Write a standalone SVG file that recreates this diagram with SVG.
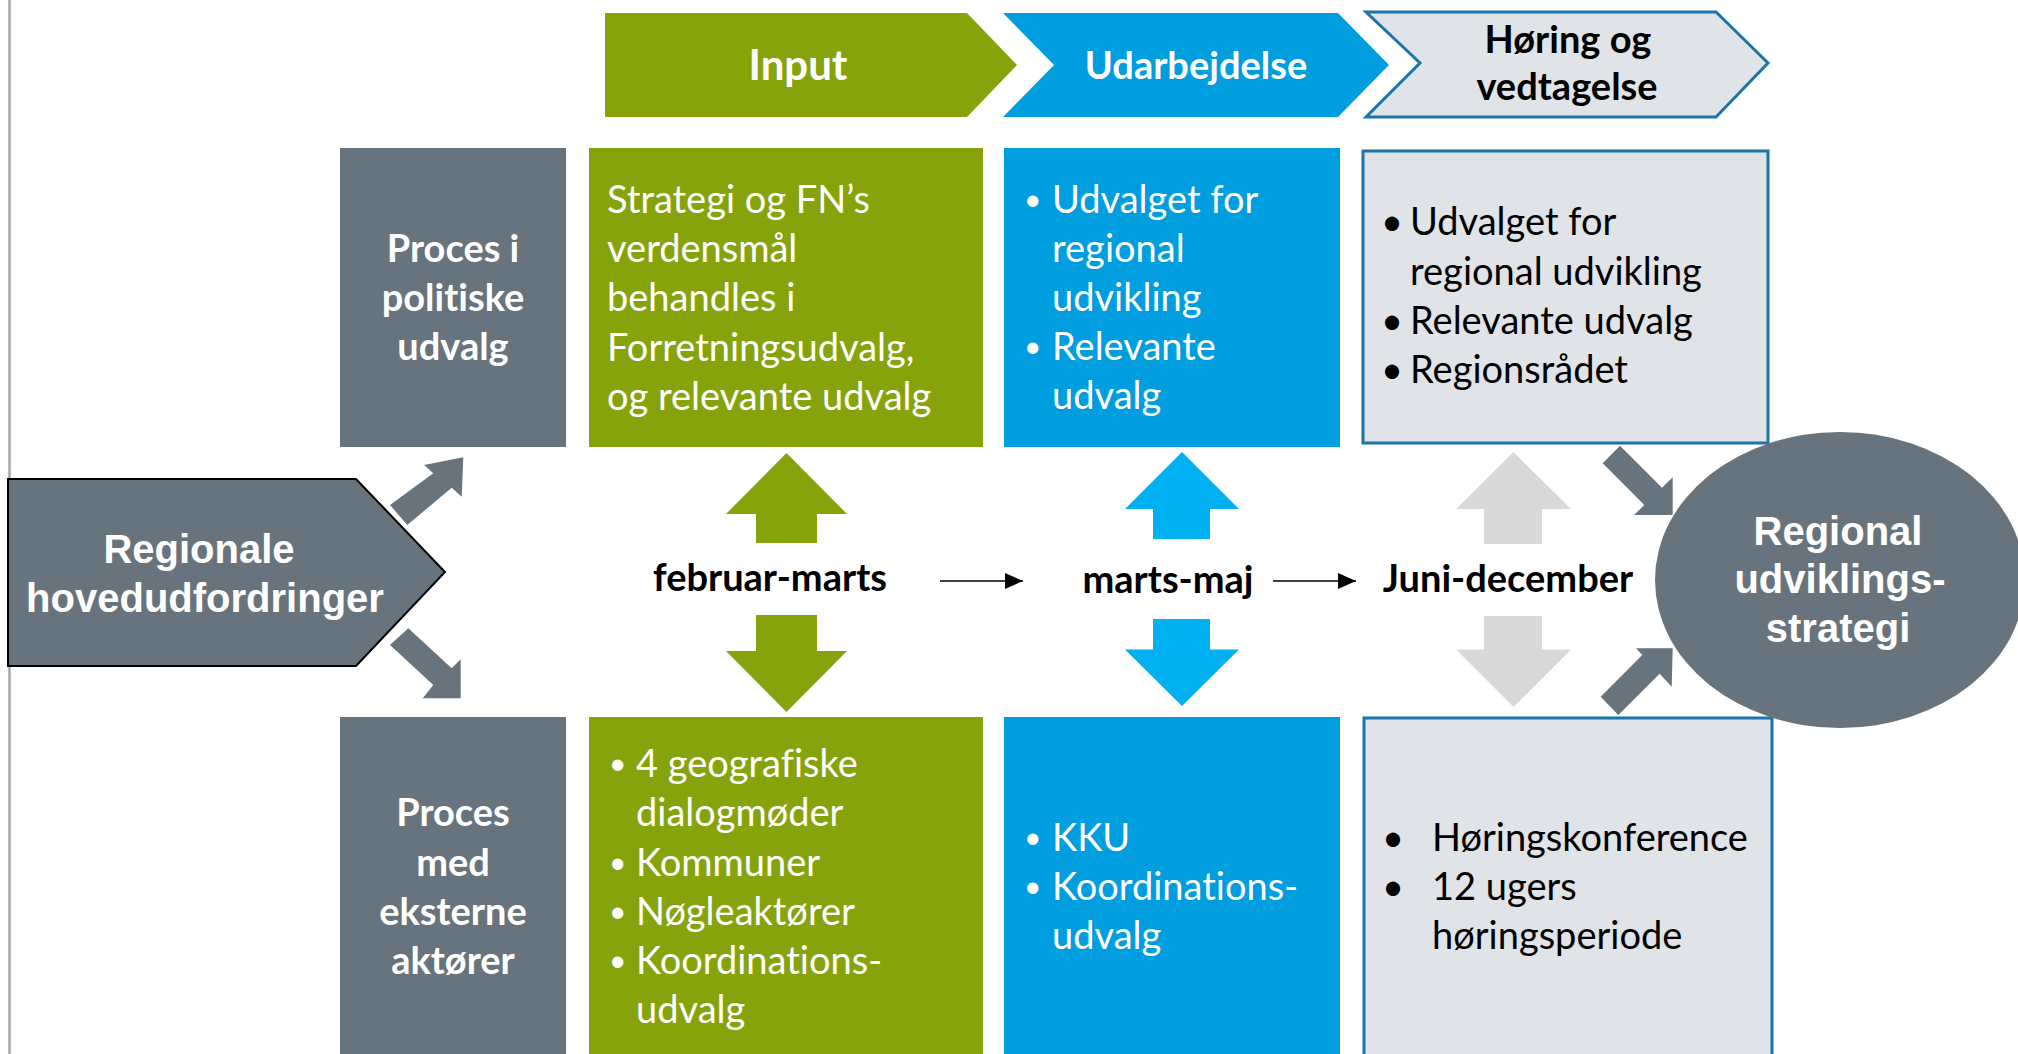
<svg xmlns="http://www.w3.org/2000/svg" width="2018" height="1054" viewBox="0 0 2018 1054">
<style>
text{font-variant-ligatures:none;font-feature-settings:"liga" 0,"clig" 0}
.lbl{font-family:Lato,"Liberation Sans",sans-serif;font-weight:700;font-size:38px}
.body{font-family:Lato,"Liberation Sans",sans-serif;font-size:38px}
.bul{font-family:Lato,"Liberation Sans",sans-serif;font-size:30px}
.w{fill:#fff}
.k{fill:#000}
.arial{font-family:"Liberation Sans",Arial,sans-serif;font-weight:700;font-size:40px;fill:#fff}
.mid{text-anchor:middle}
.gray{fill:#67747D}
.green{fill:#87A30B}
.blue{fill:#009DDF}
.light{fill:#E0E3E7;stroke:#1B75A6;stroke-width:3}
.lblue{fill:#00B0F0}
.lgray{fill:#D9D9D9}
.ln{stroke:#000;stroke-width:1.6;fill:none}
</style>
<defs>
<marker id="ah" markerWidth="18" markerHeight="16" refX="18" refY="8" orient="auto" markerUnits="userSpaceOnUse"><path d="M0,0 L18,8 L0,16 Z" fill="#000"/></marker>
</defs>
<rect width="2018" height="1054" fill="#fff"/>
<line x1="9.5" y1="0" x2="9.5" y2="1054" stroke="#9EA6AE" stroke-width="2.5"/>

<g id="phase-input">
<polygon class="green" points="605,13 967,13 1017,65 967,117 605,117"/>
<text class="lbl w mid" x="798" y="80" style="font-size:42px">Input</text>
</g>
<g id="phase-udarbejdelse">
<polygon class="blue" points="1003,13 1338,13 1389,65 1338,117 1003,117 1054,65"/>
<text class="lbl w mid" x="1196" y="79">Udarbejdelse</text>
</g>
<g id="phase-horing">
<polygon class="light" points="1366,12 1716,12 1768,63 1716,117 1366,117 1420,63"/>
<text class="lbl k mid" x="1568" y="53">Høring og</text>
<text class="lbl k mid" x="1567" y="100">vedtagelse</text>
</g>

<g id="regionale">
<polygon class="gray" points="8,479 356,479 445,572 356,666 8,666" stroke="#000" stroke-width="2"/>
<text class="arial mid" x="199" y="563">Regionale</text>
<text class="arial mid" x="205" y="612">hovedudfordringer</text>
</g>

<g id="proces-politiske">
<rect class="gray" x="340" y="148" width="226" height="299"/>
<text class="lbl w mid" x="453" y="262">Proces i</text>
<text class="lbl w mid" x="453" y="311">politiske</text>
<text class="lbl w mid" x="453" y="360">udvalg</text>
</g>
<g id="proces-eksterne">
<rect class="gray" x="340" y="717" width="226" height="340"/>
<text class="lbl w mid" x="453" y="826">Proces</text>
<text class="lbl w mid" x="453" y="876">med</text>
<text class="lbl w mid" x="453" y="925">eksterne</text>
<text class="lbl w mid" x="453" y="974">aktører</text>
</g>

<g id="input-politisk">
<rect class="green" x="589" y="148" width="394" height="299"/>
<text class="body w" x="607" y="213">Strategi og FN’s</text>
<text class="body w" x="607" y="262">verdensmål</text>
<text class="body w" x="607" y="311">behandles i</text>
<text class="body w" x="607" y="361">Forretningsudvalg,</text>
<text class="body w" x="607" y="410">og relevante udvalg</text>
</g>
<g id="input-eksterne">
<rect class="green" x="589" y="717" width="394" height="340"/>
<text class="bul w" x="609" y="774">•</text><text class="body w" x="636" y="777">4 geografiske</text>
<text class="body w" x="636" y="826">dialogmøder</text>
<text class="bul w" x="609" y="873">•</text><text class="body w" x="636" y="876">Kommuner</text>
<text class="bul w" x="609" y="922">•</text><text class="body w" x="636" y="925">Nøgleaktører</text>
<text class="bul w" x="609" y="971">•</text><text class="body w" x="636" y="974">Koordinations-</text>
<text class="body w" x="636" y="1023">udvalg</text>
</g>

<g id="udarb-politisk">
<rect class="blue" x="1004" y="148" width="336" height="299"/>
<text class="bul w" x="1024" y="210">•</text><text class="body w" x="1052" y="213">Udvalget for</text>
<text class="body w" x="1052" y="262">regional</text>
<text class="body w" x="1052" y="311">udvikling</text>
<text class="bul w" x="1024" y="357">•</text><text class="body w" x="1052" y="360">Relevante</text>
<text class="body w" x="1052" y="409">udvalg</text>
</g>
<g id="udarb-eksterne">
<rect class="blue" x="1004" y="717" width="336" height="340"/>
<text class="bul w" x="1024" y="848">•</text><text class="body w" x="1052" y="851">KKU</text>
<text class="bul w" x="1024" y="897">•</text><text class="body w" x="1052" y="900">Koordinations-</text>
<text class="body w" x="1052" y="949">udvalg</text>
</g>

<g id="horing-politisk">
<rect class="light" x="1363" y="151" width="405" height="292"/>
<text class="body k" x="1381" y="235">•</text><text class="body k" x="1410" y="235">Udvalget for</text>
<text class="body k" x="1410" y="285">regional udvikling</text>
<text class="body k" x="1381" y="334">•</text><text class="body k" x="1410" y="334">Relevante udvalg</text>
<text class="body k" x="1381" y="383">•</text><text class="body k" x="1410" y="383">Regionsrådet</text>
</g>
<g id="horing-eksterne">
<rect class="light" x="1364" y="718" width="408" height="340"/>
<text class="body k" x="1382" y="851">•</text><text class="body k" x="1432" y="851">Høringskonference</text>
<text class="body k" x="1382" y="900">•</text><text class="body k" x="1432" y="900">12 ugers</text>
<text class="body k" x="1432" y="949">høringsperiode</text>
</g>

<g id="strategi">
<ellipse class="gray" cx="1840" cy="580" rx="185" ry="148"/>
<text class="arial mid" x="1838" y="545">Regional</text>
<text class="arial mid" x="1840" y="593">udviklings-</text>
<text class="arial mid" x="1838" y="642">strategi</text>
</g>

<g id="periods">
<text class="lbl k mid" x="770" y="591">februar-marts</text>
<text class="lbl k mid" x="1168" y="593">marts-maj</text>
<text class="lbl k mid" x="1508" y="592">Juni-december</text>
</g>

<g id="connectors">
<polygon class="gray" points="390,505 433.3,473.3 424,465 463.3,457.3 461.7,496.7 451.7,487.7 407.3,525"/>
<polygon class="gray" points="408.3,628.3 451.7,668.3 460.7,659.3 460.7,698.3 422.7,698.3 433.3,685 390,645"/>
<polygon class="gray" points="1620,445.7 1662,487.7 1672.7,477.3 1672.7,515 1634,515 1644.3,505 1602.7,463.3"/>
<polygon class="gray" points="1600.7,696.7 1642.3,655.1 1636,648.3 1672.7,648.3 1671.7,686.7 1659.6,673.7 1618.3,715"/>
<polygon class="green" points="786.5,453 847,514 817,514 817,543 756,543 756,514 726,514"/>
<polygon class="green" points="756,615 817,615 817,651 847,651 786.5,712 726,651 756,651"/>
<polygon class="lblue" points="1182,452 1239,509 1210,509 1210,539 1153,539 1153,509 1125,509"/>
<polygon class="lblue" points="1153,619 1210,619 1210,649.5 1239,649.5 1182,706 1125,649.5 1153,649.5"/>
<polygon class="lgray" points="1513.5,452 1571,509 1542,509 1542,544 1484,544 1484,509 1456,509"/>
<polygon class="lgray" points="1484,616 1542,616 1542,649.5 1571,649.5 1513.5,707 1456,649.5 1484,649.5"/>
<line class="ln" x1="940" y1="581" x2="1023" y2="581" marker-end="url(#ah)"/>
<line class="ln" x1="1273" y1="581" x2="1356" y2="581" marker-end="url(#ah)"/>
</g>
</svg>
